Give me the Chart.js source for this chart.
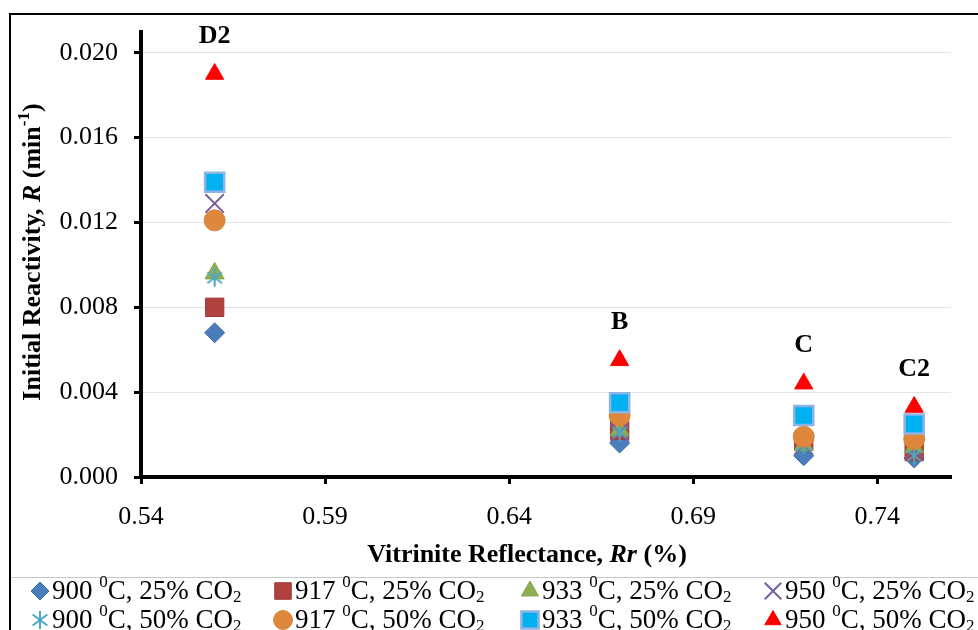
<!DOCTYPE html>
<html>
<head>
<meta charset="utf-8">
<script src="https://cdn.jsdelivr.net/npm/chart.js@4/dist/chart.umd.min.js"></script>
<style>
  html, body { margin: 0; padding: 0; background: #ffffff; }
  #wrap { width: 978px; height: 630px; position: relative; }
</style>
</head>
<body>
<div id="wrap"><canvas id="chart" width="978" height="630"></canvas></div>
<script>
// Vitrinite reflectance (%) of the four coals
const reflectance = [0.56, 0.67, 0.72, 0.75];
const coalNames = ['D2', 'B', 'C', 'C2'];

// Initial reactivity R (min^-1) per gasification condition
const r900_25 = [0.0068, 0.0016, 0.0010, 0.0009];
const r917_25 = [0.0080, 0.0022, 0.0017, 0.0012];
const r933_25 = [0.0096, 0.0022, 0.0015, 0.0014];
const r950_25 = [0.0129, 0.0021, 0.0015, 0.0013];
const r900_50 = [0.0094, 0.0021, 0.0015, 0.0010];
const r917_50 = [0.0121, 0.0029, 0.0019, 0.0018];
const r933_50 = [0.0139, 0.0035, 0.0029, 0.0025];
const r950_50 = [0.0190, 0.0055, 0.0044, 0.0033];

const seriesTemp = ['900', '917', '933', '950', '900', '917', '933', '950'];
const seriesCO2 = ['25', '25', '25', '25', '50', '50', '50', '50'];

const xTicks = [0.54, 0.59, 0.64, 0.69, 0.74];
const yTicks = [0.000, 0.004, 0.008, 0.012, 0.016, 0.020];

const SERIF = "'Liberation Serif', 'Times New Roman', serif";

// six-armed asterisk marker
function asteriskMarker(size, color) {
  const c = document.createElement('canvas');
  c.width = size; c.height = size;
  const g = c.getContext('2d');
  const m = size / 2, r = size / 2 - 1;
  g.strokeStyle = color;
  g.lineWidth = 2;
  g.beginPath();
  g.moveTo(m, m - r); g.lineTo(m, m + r);
  const d = r * 0.82;
  g.moveTo(m - d, m - d * 0.75); g.lineTo(m + d, m + d * 0.75);
  g.moveTo(m + d, m - d * 0.75); g.lineTo(m - d, m + d * 0.75);
  g.stroke();
  return c;
}

const styles = [
  { pointStyle: 'rectRot', radius: 10, bg: '#4a7ebb', border: '#3f6fa8', bw: 1 },
  { pointStyle: 'rect', radius: 13, bg: '#b0413e', border: '#a23a37', bw: 1 },
  { pointStyle: 'triangle', radius: 11, bg: '#8fae52', border: '#86a44c', bw: 1 },
  { pointStyle: 'crossRot', radius: 13, bg: '#7a5f9c', border: '#7a5f9c', bw: 2 },
  { pointStyle: asteriskMarker(20, '#4aa8c4'), radius: 10, bg: '#4aa8c4', border: '#4aa8c4', bw: 0 },
  { pointStyle: 'circle', radius: 10.5, bg: '#df883d', border: '#d8843a', bw: 1 },
  { pointStyle: 'rect', radius: 13.5, bg: '#00b0f0', border: '#8eb4e3', bw: 2.5 },
  { pointStyle: 'triangle', radius: 10.5, bg: '#ff0000', border: '#ff0000', bw: 1 }
];

const seriesValues = [r900_25, r917_25, r933_25, r950_25, r900_50, r917_50, r933_50, r950_50];

const datasets = seriesValues.map((vals, i) => ({
  label: seriesTemp[i] + ' °C, ' + seriesCO2[i] + '% CO2',
  data: vals.map((v, k) => ({ x: reflectance[k], y: v })),
  showLine: false,
  pointStyle: styles[i].pointStyle,
  pointRadius: styles[i].radius,
  pointHoverRadius: styles[i].radius,
  backgroundColor: styles[i].bg,
  borderColor: styles[i].border,
  pointBorderWidth: styles[i].bw,
  order: seriesValues.length - 1 - i,
  clip: false
}));

// draws runs of text with mixed weight/style and super/subscripts
function drawRuns(ctx, runs, x, y, align) {
  let total = 0;
  runs.forEach(r => { ctx.font = r.font; total += ctx.measureText(r.t).width; });
  let cx = align === 'center' ? x - total / 2 : x;
  runs.forEach(r => {
    ctx.font = r.font;
    ctx.fillText(r.t, cx, y + (r.dy || 0));
    cx += ctx.measureText(r.t).width;
  });
}

const decorations = {
  id: 'decorations',
  beforeDraw(chart) {
    const ctx = chart.ctx;
    ctx.save();
    ctx.fillStyle = '#ffffff';
    ctx.fillRect(0, 0, chart.width, chart.height);
    ctx.restore();
  },
  afterDraw(chart) {
    const ctx = chart.ctx;
    const xs = chart.scales.x, ys = chart.scales.y;
    ctx.save();

    // outer frame
    ctx.strokeStyle = '#000000';
    ctx.lineWidth = 2;
    ctx.beginPath();
    ctx.moveTo(978, 14); ctx.lineTo(10, 14); ctx.lineTo(10, 630);
    ctx.stroke();

    // separator above the legend
    ctx.strokeStyle = '#c8c8c8';
    ctx.lineWidth = 1;
    ctx.beginPath();
    ctx.moveTo(11, 577.5); ctx.lineTo(978, 577.5);
    ctx.stroke();

    ctx.fillStyle = '#000000';
    ctx.textBaseline = 'middle';

    // coal names above each group of points
    ctx.textAlign = 'left';
    coalNames.forEach((name, k) => {
      const top = Math.max(...seriesValues.map(s => s[k]));
      const px = xs.getPixelForValue(reflectance[k]);
      const py = ys.getPixelForValue(top) - 38;
      drawRuns(ctx, [{ t: name, font: 'bold 26px ' + SERIF }], px, py, 'center');
    });

    // x axis title
    const B = 'bold 26px ' + SERIF, BI = 'italic bold 26px ' + SERIF;
    drawRuns(ctx, [
      { t: 'Vitrinite Reflectance, ', font: B },
      { t: 'Rr', font: BI },
      { t: ' (%)', font: B }
    ], 527, 555, 'center');

    // y axis title
    ctx.save();
    ctx.translate(33, 252);
    ctx.rotate(-Math.PI / 2);
    drawRuns(ctx, [
      { t: 'Initial Reactivity, ', font: B },
      { t: 'R', font: BI },
      { t: ' (min', font: B },
      { t: '-1', font: 'bold 17px ' + SERIF, dy: -8 },
      { t: ')', font: B }
    ], 0, 0, 'center');
    ctx.restore();

    // legend: two rows of four entries
    const colX = [40, 283, 530, 773];
    const rowY = [591, 620];
    const N = '27px ' + SERIF, S = '17px ' + SERIF;
    datasets.forEach((ds, i) => {
      const cx = colX[i % 4], cy = rowY[Math.floor(i / 4)];
      const st = styles[i];
      ctx.fillStyle = st.bg;
      ctx.strokeStyle = st.border;
      ctx.lineWidth = st.bw;
      Chart.helpers.drawPoint(ctx, {
        pointStyle: st.pointStyle, radius: st.radius * 0.9, rotation: 0, borderWidth: st.bw
      }, cx, cy);
      ctx.fillStyle = '#000000';
      drawRuns(ctx, [
        { t: seriesTemp[i] + ' ', font: N },
        { t: '0', font: S, dy: -9 },
        { t: 'C, ' + seriesCO2[i] + '% CO', font: N },
        { t: '2', font: S, dy: 6 }
      ], cx + 12, cy + 1, 'left');
    });

    ctx.restore();
  }
};

new Chart(document.getElementById('chart'), {
  type: 'scatter',
  data: { datasets },
  options: {
    responsive: false,
    animation: false,
    devicePixelRatio: 1,
    layout: { padding: { top: 31, right: 27, left: 0, bottom: 0 } },
    plugins: { legend: { display: false }, tooltip: { enabled: false } },
    scales: {
      x: {
        type: 'linear',
        min: 0.54,
        max: 0.76,
        afterBuildTicks: s => { s.ticks = xTicks.map(v => ({ value: v })); },
        afterFit: s => { s.height = 153; },
        ticks: {
          callback: v => Number(v).toFixed(2),
          font: { family: SERIF, size: 26 },
          color: '#000000',
          padding: 18,
          maxRotation: 0
        },
        grid: { drawOnChartArea: false, drawTicks: true, tickLength: 7, tickWidth: 3, tickColor: '#000000' },
        border: { display: true, color: '#000000', width: 4 }
      },
      y: {
        type: 'linear',
        min: 0,
        max: 0.021,
        afterBuildTicks: s => { s.ticks = yTicks.map(v => ({ value: v })); },
        afterFit: s => { s.width = 141; },
        ticks: {
          callback: v => Number(v).toFixed(3),
          font: { family: SERIF, size: 26 },
          color: '#000000',
          padding: 16
        },
        grid: {
          color: c => (c.tick && c.tick.value === 0) ? 'rgba(0,0,0,0)' : '#e4e4e4',
          lineWidth: 1,
          drawTicks: true,
          tickLength: 7,
          tickWidth: 3,
          tickColor: '#000000'
        },
        border: { display: true, color: '#000000', width: 4 }
      }
    }
  },
  plugins: [decorations]
});
</script>
</body>
</html>
